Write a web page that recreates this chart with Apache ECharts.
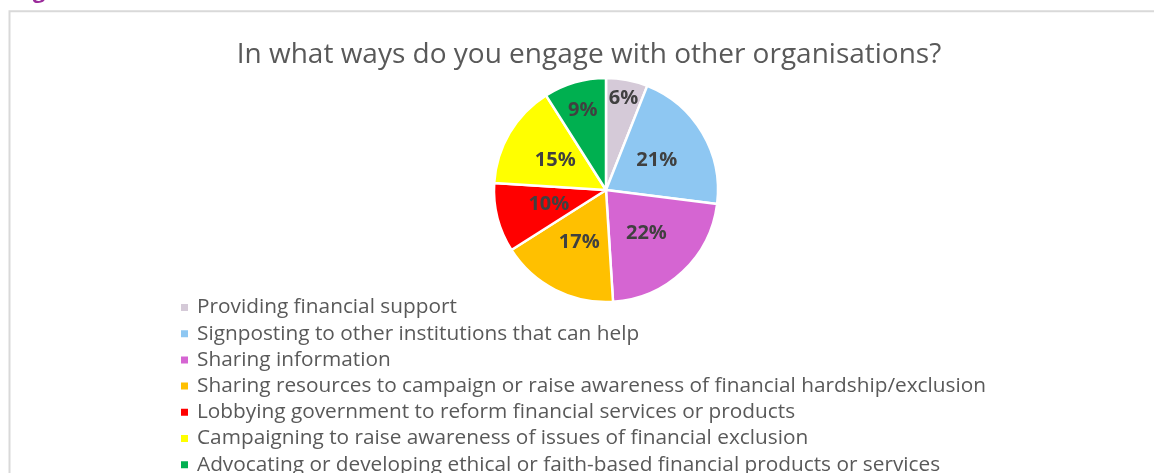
<!DOCTYPE html>
<html>
<head>
<meta charset="utf-8">
<script src="https://cdn.jsdelivr.net/npm/echarts@6/dist/echarts.min.js"></script>
<style>
html,body{margin:0;padding:0;background:#fff;}
#chart{width:1154px;height:473px;}
</style>
</head>
<body>
<div id="chart"></div>
<script>
const titleText = 'In what ways do you engage with other organisations?';
const categories = [
  'Providing financial support',
  'Signposting to other institutions that can help',
  'Sharing information',
  'Sharing resources to campaign or raise awareness of financial hardship/exclusion',
  'Lobbying government to reform financial services or products',
  'Campaigning to raise awareness of issues of financial exclusion',
  'Advocating or developing ethical or faith-based financial products or services'
];
const values = [6, 21, 22, 17, 10, 15, 9];
const colors = ['#D5CAD8', '#8EC7F2', '#D565D2', '#FFC000', '#FF0000', '#FFFF00', '#00B050'];

const total = values.reduce((a, b) => a + b, 0);
let cum = 0;
const pieData = categories.map((name, i) => {
  const mid = (cum + values[i] / 2) / total * 2 * Math.PI;
  cum += values[i];
  const item = { name: name, value: values[i], itemStyle: { color: colors[i] } };
  if (values[i] < 10) {
    const push = values[i] < 7 ? 34 : 24;
    item.label = { offset: [Math.sin(mid) * push, -Math.cos(mid) * push] };
  }
  return item;
});

const chart = echarts.init(document.getElementById('chart'));
const FONT = '"Open Sans", Lato, sans-serif';
chart.setOption({
  backgroundColor: '#ffffff',
  animation: false,
  graphic: [
    { type: 'rect', shape: { x: 9.5, y: 11.3, width: 1300, height: 600 },
      style: { fill: 'none', stroke: '#D9D9D9', lineWidth: 2 }, silent: true },
    { type: 'text', left: 14, top: -19,
      style: { text: 'Figure', fill: '#9B2C9B', font: 'bold 22px ' + FONT }, silent: true }
  ],
  title: {
    text: titleText,
    left: 584,
    textAlign: 'center',
    top: 36,
    textStyle: { fontFamily: FONT, fontWeight: 'normal', fontSize: 28, color: '#595959' }
  },
  legend: {
    orient: 'vertical',
    left: 174,
    top: 292,
    height: 400,
    itemWidth: 9,
    itemHeight: 9,
    itemGap: 5.2,
    icon: 'rect',
    data: categories,
    textStyle: { fontFamily: FONT, fontSize: 20.8, lineHeight: 21, color: '#595959', padding: [0, 0, 0, 3] }
  },
  series: [{
    type: 'pie',
    center: [606, 190],
    radius: [0, 112],
    startAngle: 90,
    clockwise: true,
    data: pieData,
    itemStyle: { borderColor: '#ffffff', borderWidth: 2.5 },
    label: {
      show: true,
      position: 'inside',
      formatter: p => p.value + '%',
      fontFamily: FONT,
      fontWeight: 'bold',
      fontSize: 20,
      color: '#404040'
    },
    labelLine: { show: false },
    emphasis: { disabled: true }
  }]
});
</script>
</body>
</html>
